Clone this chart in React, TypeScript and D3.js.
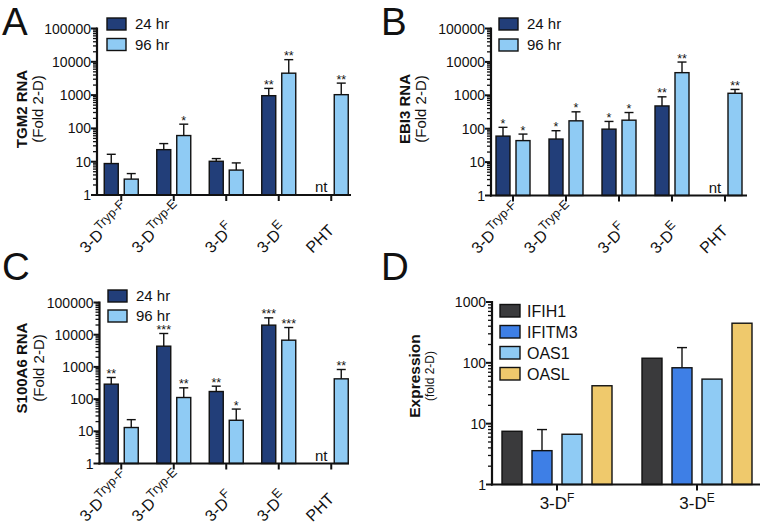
import React from 'react';
import * as d3 from 'd3';

const FONT = "'Liberation Sans', Arial, Helvetica, sans-serif";

// ---------- data ----------
const catKeys = ["TrypF", "TrypE", "F", "E", "PHT"];
const catBase = ["3-D", "3-D", "3-D", "3-D", "PHT"];
const catSup = ["Tryp-F", "Tryp-E", "F", "E", ""];
const timeLabels = ["24 hr", "96 hr"];
const yTicksABC = [1, 10, 100, 1000, 10000, 100000];
const yTicksD = [1, 10, 100, 1000];

// Panel A: TGM2
const tgm2H24 = [8.8, 23, 10.3, 960, null];
const tgm2H24Hi = [16.7, 35, 12.4, 1590, null];
const tgm2H24Sig = ["", "", "", "**", ""];
const tgm2H96 = [3.0, 61, 5.6, 4550, 1030];
const tgm2H96Hi = [4.4, 134, 9.2, 11600, 2290];
const tgm2H96Sig = ["", "*", "", "**", "**"];

// Panel B: EBI3
const ebi3H24 = [60, 49, 97, 480, null];
const ebi3H24Hi = [110, 87, 165, 900, null];
const ebi3H24Sig = ["*", "*", "*", "**", ""];
const ebi3H96 = [44, 172, 180, 4760, 1150];
const ebi3H96Hi = [69, 320, 305, 9900, 1500];
const ebi3H96Sig = ["*", "*", "*", "**", "**"];

// Panel C: S100A6
const s100H24 = [291, 4400, 172, 19800, null];
const s100H24Hi = [469, 10900, 252, 33400, null];
const s100H24Sig = ["**", "***", "**", "***", ""];
const s100H96 = [13.1, 112, 22, 6760, 426];
const s100H96Hi = [23, 224, 49, 16700, 830];
const s100H96Sig = ["", "**", "*", "***", "**"];

// Panel D
const dGroups = ["F", "E"];
const dGenes = ["IFIH1", "IFITM3", "OAS1", "OASL"];
const dIFIH1 = [7.5, 119];
const dIFITM3 = [3.6, 83];
const dIFITM3Hi = [8, 178];
const dOAS1 = [6.7, 54];
const dOASL = [42, 448];

// ---------- styles ----------
const C24 = "#223e79";
const C96 = "#8fcbf4";
const geneColors = ["#3a3a3c", "#3e7fe6", "#8fcbf4", "#efc96c"];
const LBL_MAIN = 16;
const LBL_SUP = 12.5;
const SUP_DY = 7;

let measureCtx: CanvasRenderingContext2D | null = null;
function textWidth(s: string, size: number) {
  if (!s) return 0;
  if (!measureCtx && typeof document !== 'undefined') {
    measureCtx = document.createElement('canvas').getContext('2d');
  }
  let w = 0;
  if (measureCtx) {
    measureCtx.font = `${size}px 'Liberation Sans', Arial, sans-serif`;
    w = measureCtx.measureText(s).width;
  }
  if (!isFinite(w) || w <= 0) w = s.length * size * 0.55;
  return w;
}

function minorTicks(maxExp: number) {
  const out: number[] = [];
  for (let e = 0; e < maxExp; e++) for (let k = 2; k <= 9; k++) out.push(k * Math.pow(10, e));
  return out;
}

type PanelCfg = {
  letter: string; letterX: number; letterY: number;
  axisX: number; axisEnd: number; yTop: number; yBot: number;
  band: [number, number];
  legendX: number; legendY: number[];
  titleX: [number, number]; titleY: number; title: string;
  v24: (number | null)[]; hi24: (number | null)[]; sig24: string[];
  v96: (number | null)[]; hi96: (number | null)[]; sig96: string[];
};

function RotLabel({ tick, bottom, base, sup }: { tick: number; bottom: number; base: string; sup: string }) {
  const c = Math.SQRT1_2;
  const L = textWidth(base, LBL_MAIN) + textWidth(sup, LBL_SUP);
  const reach = sup ? L - SUP_DY : L;
  const sx = +(tick + 4 - c * reach).toFixed(2);
  const sy = +bottom.toFixed(2);
  return (
    <text x={sx} y={sy} transform={`rotate(-45 ${sx} ${sy})`} fontSize={LBL_MAIN} fill="#111">
      {base}
      {sup && <tspan fontSize={LBL_SUP} dy={-SUP_DY}>{sup}</tspan>}
    </text>
  );
}

function BarPanel({ cfg }: { cfg: PanelCfg }) {
  const y = d3.scaleLog().domain([1, 100000]).range([cfg.yBot, cfg.yTop]);
  const x0 = d3.scaleBand().domain(catKeys).range(cfg.band).paddingInner(0).paddingOuter(0);
  const x1 = d3.scaleBand().domain(timeLabels).range([-17, 17]).paddingInner(0.3);
  const series = [
    { name: timeLabels[0], v: cfg.v24, hi: cfg.hi24, sig: cfg.sig24, color: C24 },
    { name: timeLabels[1], v: cfg.v96, hi: cfg.hi96, sig: cfg.sig96, color: C96 },
  ];
  const bw = x1.bandwidth();
  return (
    <g fontFamily={FONT}>
      <text x={cfg.letterX} y={cfg.letterY} fontSize={38.5} fill="#111">{cfg.letter}</text>
      {series.map((s) =>
        catKeys.map((k, i) => {
          const cx = x0(k)! + x0.bandwidth() / 2;
          const bx = cx + x1(s.name)!;
          const v = s.v[i];
          if (v == null) {
            return (
              <text key={s.name + k} x={bx + bw / 2} y={cfg.yBot - 3} fontSize={15} textAnchor="middle" fill="#111">nt</text>
            );
          }
          const top = y(v);
          const hi = s.hi[i];
          const capY = hi != null ? y(hi) : top;
          const mid = bx + bw / 2;
          return (
            <g key={s.name + k}>
              <rect x={bx} y={top} width={bw} height={cfg.yBot - top} fill={s.color} stroke="#111" strokeWidth={1.4} />
              {hi != null && (
                <g stroke="#111" strokeWidth={1.4}>
                  <line x1={mid} x2={mid} y1={top} y2={capY} />
                  <line x1={mid - 4.5} x2={mid + 4.5} y1={capY} y2={capY} />
                </g>
              )}
              {s.sig[i] && (
                <text x={mid} y={capY + 0.5} fontSize={12.5} textAnchor="middle" fill="#111">{s.sig[i]}</text>
              )}
            </g>
          );
        })
      )}
      <line x1={cfg.axisX} x2={cfg.axisX} y1={cfg.yTop - 1} y2={cfg.yBot + 1} stroke="#111" strokeWidth={2.2} />
      {minorTicks(5).map((t) => (
        <line key={t} x1={cfg.axisX - 4} x2={cfg.axisX} y1={y(t)} y2={y(t)} stroke="#111" strokeWidth={1.3} />
      ))}
      {yTicksABC.map((t) => (
        <g key={t}>
          <line x1={cfg.axisX - 6} x2={cfg.axisX} y1={y(t)} y2={y(t)} stroke="#111" strokeWidth={2} />
          <text x={cfg.axisX - 6} y={y(t)} dy="0.36em" fontSize={14} textAnchor="end" fill="#111">{t}</text>
        </g>
      ))}
      <line x1={cfg.axisX - 1} x2={cfg.axisEnd} y1={cfg.yBot} y2={cfg.yBot} stroke="#111" strokeWidth={2.2} />
      {catKeys.map((k, i) => {
        const cx = x0(k)! + x0.bandwidth() / 2;
        return (
          <g key={k}>
            <line x1={cx} x2={cx} y1={cfg.yBot} y2={cfg.yBot + 6} stroke="#111" strokeWidth={2} />
            <RotLabel tick={cx} bottom={cfg.yBot + 59} base={catBase[i]} sup={catSup[i]} />
          </g>
        );
      })}
      <text transform={`translate(${cfg.titleX[0]},${cfg.titleY}) rotate(-90)`} textAnchor="middle" fontSize={15} fontWeight="bold" fill="#111">{cfg.title}</text>
      <text transform={`translate(${cfg.titleX[1]},${cfg.titleY}) rotate(-90)`} textAnchor="middle" fontSize={15} fill="#111">(Fold 2-D)</text>
      {series.map((s, i) => (
        <g key={s.name}>
          <rect x={cfg.legendX} y={cfg.legendY[i]} width={19} height={12} fill={s.color} stroke="#111" strokeWidth={1.4} />
          <text x={cfg.legendX + 28} y={cfg.legendY[i] + 6} dy="0.36em" fontSize={15} fill="#111">{s.name}</text>
        </g>
      ))}
    </g>
  );
}

function PanelD() {
  const axisX = 492, axisEnd = 760, yTop = 302, yBot = 484.5;
  const y = d3.scaleLog().domain([1, 1000]).range([yBot, yTop]);
  const x0 = d3.scaleBand().domain(dGroups).range([487, 767]);
  const x1 = d3.scaleBand().domain(dGenes).range([-55, 55]).paddingInner(1 / 3);
  const vals = [dIFIH1, dIFITM3, dOAS1, dOASL];
  const his: (number[] | null)[] = [null, dIFITM3Hi, null, null];
  const bw = x1.bandwidth();
  const legendY = [304.5, 325.5, 346.5, 367.5];
  return (
    <g fontFamily={FONT}>
      <text x={381} y={280} fontSize={38.5} fill="#111">D</text>
      {dGenes.map((g, gi) =>
        dGroups.map((grp, j) => {
          const cx = x0(grp)! + x0.bandwidth() / 2;
          const bx = cx + x1(g)!;
          const v = vals[gi][j];
          const top = y(v);
          const hiArr = his[gi];
          const mid = bx + bw / 2;
          return (
            <g key={g + grp}>
              <rect x={bx} y={top} width={bw} height={yBot - top} fill={geneColors[gi]} stroke="#111" strokeWidth={1.4} />
              {hiArr && (
                <g stroke="#111" strokeWidth={1.4}>
                  <line x1={mid} x2={mid} y1={top} y2={y(hiArr[j])} />
                  <line x1={mid - 5} x2={mid + 5} y1={y(hiArr[j])} y2={y(hiArr[j])} />
                </g>
              )}
            </g>
          );
        })
      )}
      <line x1={axisX} x2={axisX} y1={yTop - 1} y2={yBot + 1} stroke="#111" strokeWidth={2.2} />
      {minorTicks(3).map((t) => (
        <line key={t} x1={axisX - 4} x2={axisX} y1={y(t)} y2={y(t)} stroke="#111" strokeWidth={1.3} />
      ))}
      {yTicksD.map((t) => (
        <g key={t}>
          <line x1={axisX - 6} x2={axisX} y1={y(t)} y2={y(t)} stroke="#111" strokeWidth={2} />
          <text x={axisX - 6} y={y(t)} dy="0.36em" fontSize={14} textAnchor="end" fill="#111">{t}</text>
        </g>
      ))}
      <line x1={axisX - 1} x2={axisEnd} y1={yBot} y2={yBot} stroke="#111" strokeWidth={2.2} />
      {dGroups.map((grp) => {
        const cx = x0(grp)! + x0.bandwidth() / 2;
        return (
          <g key={grp}>
            <line x1={cx} x2={cx} y1={yBot} y2={yBot + 6} stroke="#111" strokeWidth={2} />
            <text x={cx} y={509} textAnchor="middle" fontSize={17} fill="#111">
              3-D<tspan fontSize={12} dy={-7}>{grp}</tspan>
            </text>
          </g>
        );
      })}
      <text transform={`translate(420,376) rotate(-90)`} textAnchor="middle" fontSize={15.5} fontWeight="bold" fill="#111">Expression</text>
      <text transform={`translate(434,376) rotate(-90)`} textAnchor="middle" fontSize={12} fill="#111">(fold 2-D)</text>
      {dGenes.map((g, i) => (
        <g key={g}>
          <rect x={500} y={legendY[i]} width={20} height={12.5} fill={geneColors[i]} stroke="#111" strokeWidth={1.4} />
          <text x={527} y={legendY[i] + 6.25} dy="0.36em" fontSize={16} fill="#111">{g}</text>
        </g>
      ))}
    </g>
  );
}

const panelA: PanelCfg = {
  letter: "A", letterX: 2, letterY: 35,
  axisX: 97, axisEnd: 351, yTop: 28.5, yBot: 195, band: [95, 357.5],
  legendX: 107, legendY: [18, 38.5], titleX: [27, 43], titleY: 109, title: "TGM2 RNA",
  v24: tgm2H24, hi24: tgm2H24Hi, sig24: tgm2H24Sig, v96: tgm2H96, hi96: tgm2H96Hi, sig96: tgm2H96Sig,
};
const panelB: PanelCfg = {
  letter: "B", letterX: 381, letterY: 35,
  axisX: 491, axisEnd: 747, yTop: 28.5, yBot: 195.5, band: [486.5, 751.5],
  legendX: 499, legendY: [18, 39], titleX: [410, 426], titleY: 109, title: "EBI3 RNA",
  v24: ebi3H24, hi24: ebi3H24Hi, sig24: ebi3H24Sig, v96: ebi3H96, hi96: ebi3H96Hi, sig96: ebi3H96Sig,
};
const panelC: PanelCfg = {
  letter: "C", letterX: 2, letterY: 280,
  axisX: 99.5, axisEnd: 349, yTop: 302.5, yBot: 463.5, band: [95, 357.5],
  legendX: 108, legendY: [290, 310], titleX: [27, 44], titleY: 368, title: "S100A6 RNA",
  v24: s100H24, hi24: s100H24Hi, sig24: s100H24Sig, v96: s100H96, hi96: s100H96Hi, sig96: s100H96Sig,
};

export default function App() {
  return (
    <svg width={763} height={526} viewBox="0 0 763 526" style={{ position: 'absolute', left: 0, top: 0, background: '#fff' }}>
      <rect width={763} height={526} fill="#fff" />
      <BarPanel cfg={panelA} />
      <BarPanel cfg={panelB} />
      <BarPanel cfg={panelC} />
      <PanelD />
    </svg>
  );
}
